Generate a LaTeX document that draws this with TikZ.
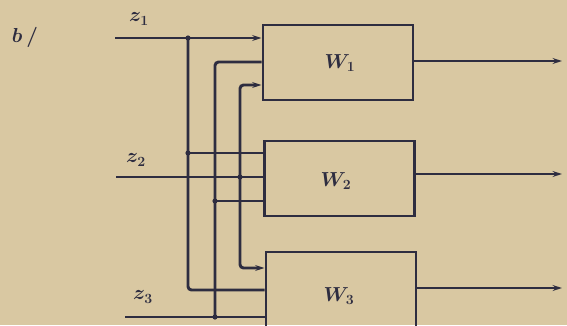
\documentclass[tikz,border=0pt]{standalone}
\usepackage{amsmath}
\usepackage{tikz}
\usetikzlibrary{arrows.meta,calc}
\definecolor{paper}{HTML}{D9C8A2}
\definecolor{ink}{HTML}{2E2D40}

\begin{document}
\begin{tikzpicture}[x=0.03cm, y=-0.03cm, line width=2.5pt, draw=ink,
    >={Stealth[length=8pt,width=5pt]},
    block/.style={draw=ink, line width=2.5pt, minimum width=4.5cm, minimum height=2.25cm, inner sep=0pt},
    lbl/.style={text=ink, font=\fontsize{18}{21}\selectfont\boldmath},
    jdot/.style={fill=ink, draw=none}]
  \fill[paper] (0,0) rectangle (567,325);
  \useasboundingbox (0,0) rectangle (567,325);

  \node[block] (W1) at (338,62.5) {};
  \node[block] (W2) at (339.5,178.5) {};
  \node[block] (W3) at (341,289.5) {};
  \node[lbl] (tW1) at (340,63) {$W_1$};
  \node[lbl] (tW2) at (336,181) {$W_2$};
  \node[lbl] (tW3) at (339,296) {$W_3$};

  \node[lbl] (tb) at (25,37) {$b\,/$};
  \node[lbl] (tz1) at (139,19) {$z_1$};
  \node[lbl] (tz2) at (136,160) {$z_2$};
  \node[lbl] (tz3) at (143,297) {$z_3$};

  % inputs and buses
  \coordinate (z1in) at (115,38);
  \coordinate (z2in) at (116,177);
  \coordinate (z3in) at (125,317);
  \coordinate (a1) at (188,38);  \coordinate (a2) at (188,153); \coordinate (a3) at (188,290);
  \coordinate (b1) at (215,62);  \coordinate (b2) at (215,201); \coordinate (b3) at (215,317);
  \coordinate (c1) at (240,85);  \coordinate (c2) at (240,177); \coordinate (c3) at (240,268);

  \draw[->] (z1in) -- (z1in -| W1.west);
  \draw (z2in) -- (z2in -| W2.west);
  \draw (z3in) -- (z3in -| W3.west);

  \draw[rounded corners=3] (a1) -- (a3) -- (a3 -| W3.west);
  \draw (a2) -- (a2 -| W2.west);
  \draw[rounded corners=3] (b1 -| W1.west) -- (b1) -- (b3);
  \draw (b2) -- (b2 -| W2.west);
  \draw[<->, rounded corners=3] (c1 -| W1.west) -- (c1) -- (c3) -- (c3 -| W3.west);

  \foreach \j in {a1,a2,b2,b3,c2}
    \fill[jdot] (\j) circle (2.6);

  % outputs
  \coordinate (o1) at (562,61);
  \coordinate (o2) at (562,174);
  \coordinate (o3) at (562,288);
  \draw[->] (W1.east |- o1) -- (o1);
  \draw[->] (W2.east |- o2) -- (o2);
  \draw[->] (W3.east |- o3) -- (o3);
\end{tikzpicture}
\end{document}
